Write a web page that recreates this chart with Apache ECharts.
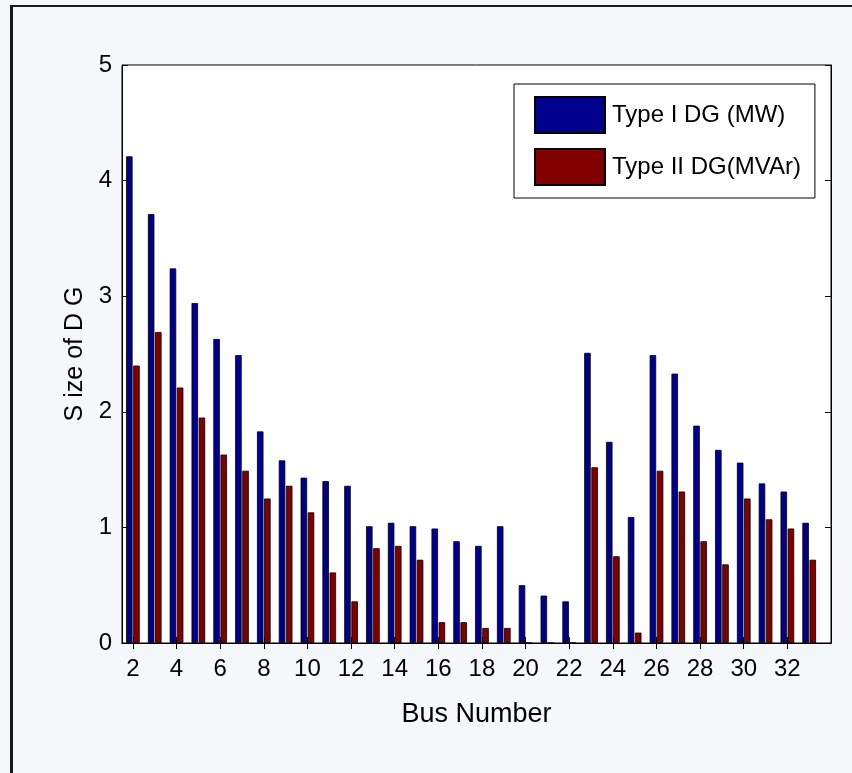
<!DOCTYPE html>
<html>
<head>
<meta charset="utf-8">
<script src="https://cdn.jsdelivr.net/npm/echarts@6/dist/echarts.min.js"></script>
<style>
html,body{margin:0;padding:0;background:#f4f8fb;}
#chart{position:absolute;left:0;top:0;width:852px;height:773px;}
#frame{position:absolute;left:10px;top:5px;width:842px;height:768px;border-top:2px solid #1a1a1a;border-left:3px solid #1a1a1a;box-sizing:border-box;pointer-events:none;}
</style>
</head>
<body>
<div id="chart"></div>
<div id="frame"></div>
<script>
var buses = [2,3,4,5,6,7,8,9,10,11,12,13,14,15,16,17,18,19,20,21,22,23,24,25,26,27,28,29,30,31,32,33];
var typeI = [4.21,3.71,3.24,2.94,2.63,2.49,1.83,1.58,1.43,1.40,1.36,1.01,1.04,1.01,0.99,0.88,0.84,1.01,0.50,0.41,0.36,2.51,1.74,1.09,2.49,2.33,1.88,1.67,1.56,1.38,1.31,1.04];
var typeII = [2.40,2.69,2.21,1.95,1.63,1.49,1.25,1.36,1.13,0.61,0.36,0.82,0.84,0.72,0.18,0.18,0.13,0.13,0,0,0,1.52,0.75,0.09,1.49,1.31,0.88,0.68,1.25,1.07,0.99,0.72];
var xTicks = [2,4,6,8,10,12,14,16,18,20,22,24,26,28,30,32];
var seriesNames = ['Type I DG (MW)', 'Type II DG(MVAr)'];

var FONT = '"Liberation Sans Narrow", "Liberation Sans", Arial, sans-serif';
function pairs(vals){ return buses.map(function(b,i){ return [b, vals[i]]; }); }

var chart = echarts.init(document.getElementById('chart'), null, {renderer:'canvas'});
var xBase = {
  type:'value', min:1.5, max:34, splitLine:{show:false},
  axisLine:{show:true, lineStyle:{color:'#000', width:1}},
  axisTick:{show:true, inside:true, length:6, customValues:xTicks, lineStyle:{color:'#000'}}
};
var yBase = {
  type:'value', min:0, max:5, interval:1, splitLine:{show:false},
  axisLine:{show:true, lineStyle:{color:'#000', width:1}},
  axisTick:{show:true, inside:true, length:6, lineStyle:{color:'#000'}}
};
chart.setOption({
  backgroundColor:'#f4f8fb',
  animation:false,
  grid:{left:122, right:21, top:65, bottom:130, show:true, backgroundColor:'#fff', borderColor:'#000', borderWidth:1},
  legend:{
    orient:'vertical', left:514, top:84,
    data:seriesNames,
    backgroundColor:'#fff', borderColor:'#000', borderWidth:1,
    padding:[12,14,12,20], itemGap:14, itemWidth:70, itemHeight:36,
    textStyle:{fontFamily:FONT, fontSize:24, color:'#000', padding:[0,0,0,2]},
    icon:'rect'
  },
  xAxis:[
    Object.assign({}, xBase, {
      position:'bottom',
      name:'Bus Number', nameLocation:'middle', nameGap:58,
      nameTextStyle:{fontFamily:FONT, fontSize:27, color:'#000'},
      axisLabel:{show:true, customValues:xTicks, margin:14, fontFamily:FONT, fontSize:24, color:'#000'}
    }),
    Object.assign({}, xBase, {position:'top', axisLabel:{show:false}})
  ],
  yAxis:[
    Object.assign({}, yBase, {
      position:'left',
      name:'S ize of D G', nameLocation:'middle', nameGap:30,
      nameTextStyle:{fontFamily:FONT, fontSize:25, color:'#000'},
      axisLabel:{show:true, margin:10, fontFamily:FONT, fontSize:24, color:'#000'}
    }),
    Object.assign({}, yBase, {position:'right', axisLabel:{show:false}})
  ],
  series:[
    {name:seriesNames[0], type:'bar', xAxisIndex:0, yAxisIndex:0, data:pairs(typeI), barWidth:6.5, barGap:'10%',
     itemStyle:{color:'#00008f', borderColor:'#000', borderWidth:0.8}},
    {name:seriesNames[1], type:'bar', xAxisIndex:0, yAxisIndex:0, data:pairs(typeII), barWidth:6.5, barGap:'10%',
     itemStyle:{color:'#800000', borderColor:'#000', borderWidth:0.8}}
  ]
});
</script>
</body>
</html>
